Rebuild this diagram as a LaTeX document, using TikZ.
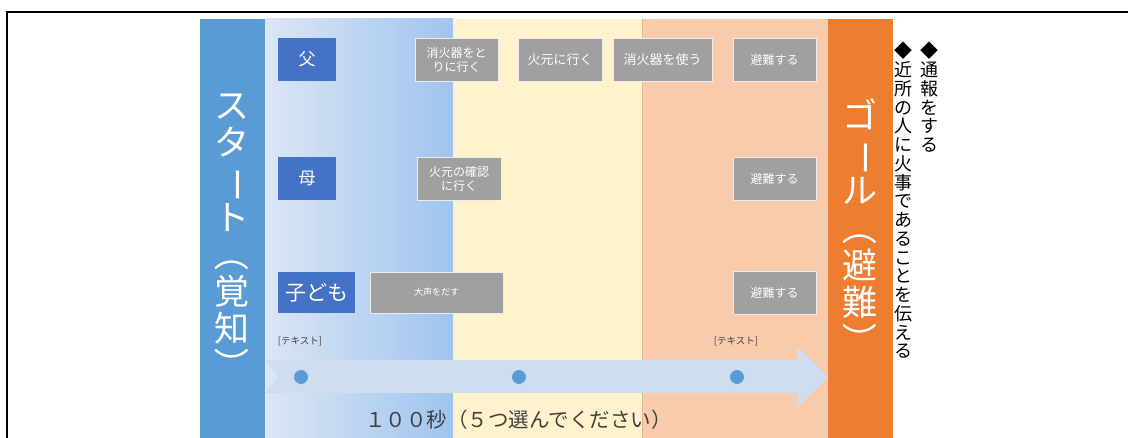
\documentclass[tikz,border=0pt]{standalone}
\usepackage{fontspec}
\setmainfont{Noto Sans CJK JP}
\usepackage{tikz}
\usetikzlibrary{positioning}

\definecolor{startblue}{RGB}{91,155,213}
\definecolor{personblue}{RGB}{68,114,196}
\definecolor{goalorange}{RGB}{237,125,49}
\definecolor{zoneyellow}{RGB}{255,242,204}
\definecolor{zonepeach}{RGB}{248,203,173}
\definecolor{gradleft}{RGB}{219,230,246}
\definecolor{gradright}{RGB}{160,196,238}
\definecolor{arrowblue}{RGB}{207,221,240}
\definecolor{actgray}{RGB}{160,160,160}
\definecolor{textgray}{RGB}{64,64,64}

\newcommand{\vrot}[1]{\rotatebox[origin=c]{-90}{#1}}

\tikzset{
  person/.style={fill=personblue, text=white, minimum height=43pt, inner sep=0pt},
  act/.style={fill=actgray, draw=white!85!gray, line width=0.6pt, text=white,
    minimum height=43pt, inner sep=0pt, align=center, font=\fontsize{12}{14}\selectfont},
  vtext/.style={align=center, inner sep=0pt},
  dot/.style={circle, fill=startblue, draw=white!70!startblue, line width=0.8pt,
    minimum size=15pt, inner sep=0pt},
  tag/.style={font=\fontsize{9.5}{11}\selectfont, text=textgray, inner sep=0pt}
}

\begin{document}
\begin{tikzpicture}[x=1pt, y=-1pt]
\useasboundingbox (0,0) rectangle (1128,438);
\draw[line width=2.2pt] (7,470) |- (1160,12);
% zones
\shade[left color=gradleft, right color=gradright] (265,19) rectangle (453,438);
\fill[zoneyellow] (453,19) rectangle (642,438);
\fill[zonepeach] (642,19) rectangle (828,438);
\draw[line width=0.6pt, color=zonepeach!70!brown] (642,19) -- (642,438);
\fill[startblue] (200,19) rectangle (265,438);
\fill[goalorange] (828,19) rectangle (893,438);
% time arrow
\fill[arrowblue] (265,360) -- (797,360) -- (797,346) -- (828,377) -- (797,408)
  -- (797,393) -- (265,393) -- (279,376.5) -- cycle;
\foreach \x/\n in {301/a,519/b,737/c} {
\node[dot] (dot-\n) at (\x,377) {};
}
\node[tag] (tag-a) at (300,342) {[テキスト]};
\node[tag] (tag-c) at (736,342) {[テキスト]};
\node[anchor=west, inner sep=0pt, font=\fontsize{20.5}{22}\selectfont, text=textgray] (duration) at (365,420) {１００秒（５つ選んでください）};
% start and goal
\node[vtext, text=white, font=\fontsize{35}{37}\selectfont] (start) at (232,238)
  {ス\\タ\\\vrot{ー}\\ト\\\vrot{（}\\覚\\知\\\vrot{）}};
\node[vtext, text=white, font=\fontsize{35}{37.5}\selectfont] (goal) at (860,228)
  {ゴ\\\vrot{ー}\\ル\\\vrot{（}\\避\\難\\\vrot{）}};
% persons
\node[person, minimum width=58pt, font=\fontsize{17}{19}\selectfont] (father) at (307,59.5) {父};
\node[person, minimum width=58pt, font=\fontsize{17}{19}\selectfont] (mother) at (307,178.5) {母};
\node[person, minimum width=77pt, minimum height=41pt, font=\fontsize{21}{23}\selectfont] (child) at (316.5,292.5) {子ども};
% actions
\node[act, minimum width=83pt] (f-fetch) at (456.5,59.5) {消火器をと\\りに行く};
\node[act, minimum width=84pt, font=\fontsize{13}{15}\selectfont] (f-go) at (560,59.5) {火元に行く};
\node[act, minimum width=99pt, font=\fontsize{13}{15}\selectfont] (f-use) at (662.5,59.5) {消火器を使う};
\node[act, minimum width=84pt] (m-check) at (459,178.5) {火元の確認\\に行く};
\node[act, minimum width=133pt, minimum height=41pt, font=\fontsize{9}{11}\selectfont] (c-shout) at (436.5,292.5) {大声をだす};
\foreach \y/\n in {59.5/f,178.5/m,292.5/c} {
\node[act, minimum width=83pt] (\n-escape) at (774.5,\y) {避難する};
}
% notes
\node[vtext, anchor=north, font=\fontsize{18}{18.75}\selectfont] (report) at (929,42)
  {◆\\通\\報\\を\\す\\る};
\node[vtext, anchor=north, font=\fontsize{18}{18.75}\selectfont] (neighbours) at (903,42)
  {◆\\近\\所\\の\\人\\に\\火\\事\\で\\あ\\る\\こ\\と\\を\\伝\\え\\る};
\end{tikzpicture}
\end{document}
